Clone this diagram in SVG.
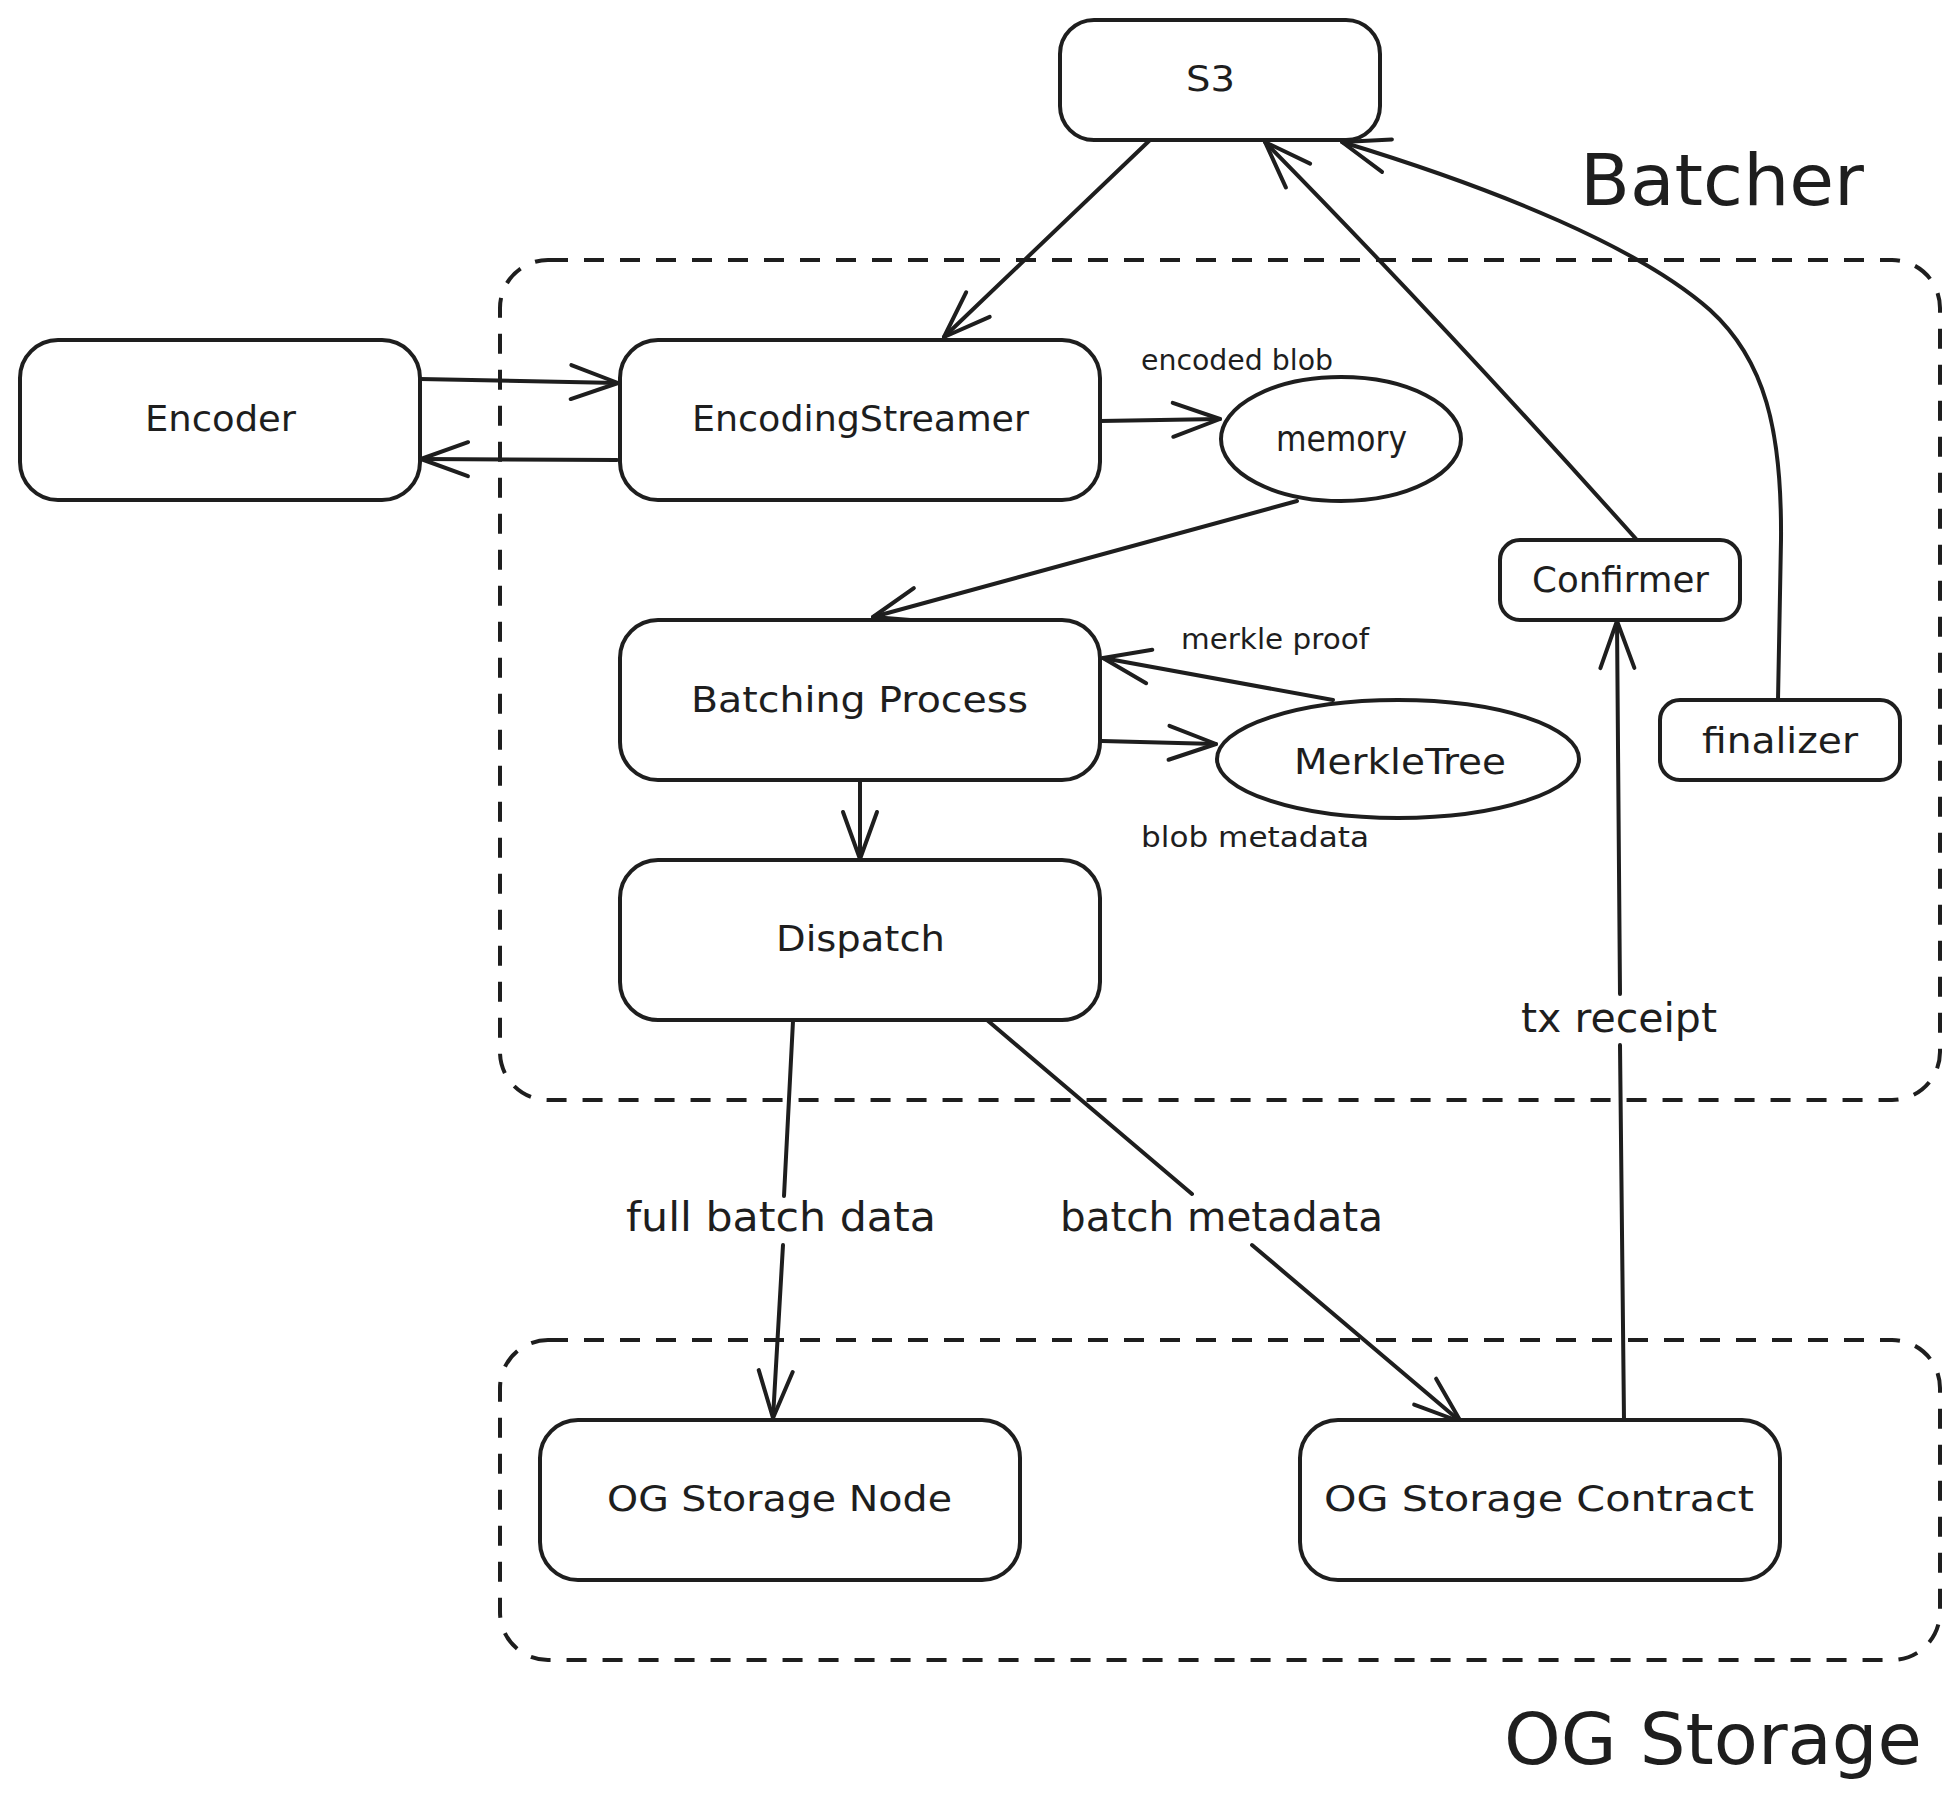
<svg xmlns="http://www.w3.org/2000/svg" width="1960" height="1810" viewBox="0 0 1960 1810">
  <style>
    .node { fill: #ffffff; stroke: #1e1e1e; stroke-width: 4; }
    .group { fill: none; stroke: #1e1e1e; stroke-width: 4; stroke-dasharray: 20 16; }
    .edge { fill: none; stroke: #1e1e1e; stroke-width: 4; stroke-linecap: round; stroke-linejoin: round; }
    text { font-family: "DejaVu Sans", "Liberation Sans", sans-serif; fill: #1e1e1e; }
    .lbl { font-size: 36px; }
    .small { font-size: 28px; }
    .edgelbl { font-size: 40px; }
    .title { font-size: 72px; }
  </style>
  <defs>
    <marker id="arrow" markerUnits="userSpaceOnUse" viewBox="-52 -22 56 44" markerWidth="56" markerHeight="44" refX="0" refY="0" orient="auto">
      <path d="M-47,-17 L0,0 L-47,17" fill="none" stroke="#1e1e1e" stroke-width="4" stroke-linecap="round" stroke-linejoin="round"/>
    </marker>
  </defs>
  <rect width="1960" height="1810" fill="#ffffff"/>

  <g id="group-batcher">
    <rect class="group" x="500" y="260" width="1440" height="840" rx="48"/>
    <text class="title" x="1580" y="205" textLength="284" lengthAdjust="spacingAndGlyphs">Batcher</text>
  </g>
  <g id="group-og-storage">
    <rect class="group" x="500" y="1340" width="1440" height="320" rx="48"/>
    <text class="title" x="1504" y="1764" textLength="418" lengthAdjust="spacingAndGlyphs">OG Storage</text>
  </g>

  <g id="connectors">
    <path class="edge" d="M1150,140 L944,337" marker-end="url(#arrow)"/>
    <path class="edge" d="M420,379 L618,383" marker-end="url(#arrow)"/>
    <path class="edge" d="M617,460 L421,459" marker-end="url(#arrow)"/>
    <path class="edge" d="M1100,421 L1220,419" marker-end="url(#arrow)"/>
    <path class="edge" d="M1297,501 L873,617" marker-end="url(#arrow)"/>
    <path class="edge" d="M1333,700 L1103,658" marker-end="url(#arrow)"/>
    <path class="edge" d="M1102,741 L1216,744" marker-end="url(#arrow)"/>
    <path class="edge" d="M860,781 L860,859" marker-end="url(#arrow)"/>
    <path class="edge" d="M793,1021 L784,1196 M783,1245 L773,1418" marker-end="url(#arrow)"/>
    <path class="edge" d="M987,1020 L1192,1194 M1252,1245 L1461,1422" marker-end="url(#arrow)"/>
    <path class="edge" d="M1624,1420 L1620,1045 M1620,994 L1617,621" marker-end="url(#arrow)"/>
    <path class="edge" d="M1637,540 Q1440,320 1265,142" marker-end="url(#arrow)"/>
    <path class="edge" d="M1778,700 L1781,540 C1782,430 1765,360 1710,310 C1640,248 1500,190 1342,142" marker-end="url(#arrow)"/>
    <text class="small" x="1141" y="370" textLength="192" lengthAdjust="spacingAndGlyphs">encoded blob</text>
    <text class="small" x="1181" y="649" textLength="188" lengthAdjust="spacingAndGlyphs">merkle proof</text>
    <text class="small" x="1141" y="847" textLength="228" lengthAdjust="spacingAndGlyphs">blob metadata</text>
    <text class="edgelbl" x="626" y="1231" textLength="310" lengthAdjust="spacingAndGlyphs">full batch data</text>
    <text class="edgelbl" x="1060" y="1231" textLength="323" lengthAdjust="spacingAndGlyphs">batch metadata</text>
    <text class="edgelbl" x="1521" y="1032" textLength="196" lengthAdjust="spacingAndGlyphs">tx receipt</text>
  </g>

  <g id="node-s3">
    <rect class="node" x="1060" y="20" width="320" height="120" rx="34"/>
    <text class="lbl" x="1186" y="91" textLength="49" lengthAdjust="spacingAndGlyphs">S3</text>
  </g>
  <g id="node-encoder">
    <rect class="node" x="20" y="340" width="400" height="160" rx="38"/>
    <text class="lbl" x="145" y="431" textLength="151" lengthAdjust="spacingAndGlyphs">Encoder</text>
  </g>
  <g id="node-encodingstreamer">
    <rect class="node" x="620" y="340" width="480" height="160" rx="38"/>
    <text class="lbl" x="692" y="431" textLength="337" lengthAdjust="spacingAndGlyphs">EncodingStreamer</text>
  </g>
  <g id="node-memory">
    <ellipse class="node" cx="1341" cy="439" rx="120" ry="62"/>
    <text class="lbl" x="1276" y="451" textLength="131" lengthAdjust="spacingAndGlyphs">memory</text>
  </g>
  <g id="node-confirmer">
    <rect class="node" x="1500" y="540" width="240" height="80" rx="20"/>
    <text class="lbl" x="1532" y="592" textLength="177" lengthAdjust="spacingAndGlyphs">Confirmer</text>
  </g>
  <g id="node-finalizer">
    <rect class="node" x="1660" y="700" width="240" height="80" rx="20"/>
    <text class="lbl" x="1702" y="753" textLength="156" lengthAdjust="spacingAndGlyphs">finalizer</text>
  </g>
  <g id="node-batching-process">
    <rect class="node" x="620" y="620" width="480" height="160" rx="38"/>
    <text class="lbl" x="691" y="712" textLength="337" lengthAdjust="spacingAndGlyphs">Batching Process</text>
  </g>
  <g id="node-merkletree">
    <ellipse class="node" cx="1398" cy="759" rx="181" ry="59"/>
    <text class="lbl" x="1294" y="774" textLength="212" lengthAdjust="spacingAndGlyphs">MerkleTree</text>
  </g>
  <g id="node-dispatch">
    <rect class="node" x="620" y="860" width="480" height="160" rx="38"/>
    <text class="lbl" x="776" y="951" textLength="169" lengthAdjust="spacingAndGlyphs">Dispatch</text>
  </g>
  <g id="node-og-storage-node">
    <rect class="node" x="540" y="1420" width="480" height="160" rx="38"/>
    <text class="lbl" x="607" y="1511" textLength="345" lengthAdjust="spacingAndGlyphs">OG Storage Node</text>
  </g>
  <g id="node-og-storage-contract">
    <rect class="node" x="1300" y="1420" width="480" height="160" rx="38"/>
    <text class="lbl" x="1324" y="1511" textLength="430" lengthAdjust="spacingAndGlyphs">OG Storage Contract</text>
  </g>
</svg>
